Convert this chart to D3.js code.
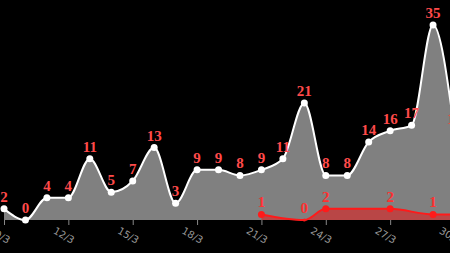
<!DOCTYPE html>
<html><head><meta charset="utf-8">
<script src="https://cdn.jsdelivr.net/npm/d3@7"></script>
<style>html,body{margin:0;padding:0;background:#000;overflow:hidden}</style>
</head><body>
<svg id="c" width="450" height="253"></svg>
<script>
// day-of-March values
const casesDays = [9,10,11,12,13,14,15,16,17,18,19,20,21,22,23,24,25,26,27,28,29,30];
const casesValues = [2,0,4,4,11,5,7,13,3,9,9,8,9,11,21,8,8,14,16,17,35,16];
const deathsDays = [21,23,24,27,29,30];
const deathsValues = [1,0,2,2,1,1];
const tickDays = [9,12,15,18,21,24,27,30];
const tickLabels = tickDays.map(d => d + "/3");

const svg = d3.select("#c");
const x = d3.scaleLinear().domain([9,30]).range([4,454.5]);
const y = d3.scaleLinear().domain([0,35]).range([220,25]);
const curve = d3.curveMonotoneX;

const cases = casesDays.map((d,i)=>({d, v:casesValues[i]}));
const deaths = deathsDays.map((d,i)=>({d, v:deathsValues[i]}));

const area = d3.area().x(p=>x(p.d)).y0(y(0)).y1(p=>y(p.v)).curve(curve);
const line = d3.line().x(p=>x(p.d)).y(p=>y(p.v)).curve(curve);

svg.append("path").datum(cases).attr("d", area).attr("fill", "#808080");
svg.append("path").datum(cases).attr("d", line).attr("fill","none").attr("stroke","#fff").attr("stroke-width",2);

svg.append("path").datum(deaths).attr("d", area).attr("fill", "rgba(255,0,0,0.45)");
svg.append("path").datum(deaths).attr("d", line).attr("fill","none").attr("stroke","#ff1a1a").attr("stroke-width",2);

// axis
const axis = d3.axisBottom(x).tickValues(tickDays).tickFormat((d,i)=>tickLabels[i]).tickSize(5).tickSizeOuter(0);
const g = svg.append("g").attr("transform", `translate(0,${y(0)})`).call(axis);
g.select(".domain").remove();
g.selectAll(".tick line").attr("stroke","#888");
g.selectAll(".tick text")
  .attr("fill","#999").attr("font-family","DejaVu Sans, sans-serif").attr("font-size",10)
  .attr("text-anchor","end").attr("dy",0).attr("y",0)
  .attr("transform","translate(3,24) rotate(30)");

// dots
svg.selectAll(".cd").data(cases).enter().append("circle")
  .attr("cx",p=>x(p.d)).attr("cy",p=>y(p.v)).attr("r",3.5).attr("fill","#fff");
svg.selectAll(".dd").data(deaths).enter().append("circle")
  .attr("cx",p=>x(p.d)).attr("cy",p=>y(p.v)).attr("r",p=>p.v===0?1.5:3.5).attr("fill","#ff1a1a");

// labels
const lab = (data, col) => svg.selectAll(null).data(data).enter().append("text")
  .attr("x",p=>x(p.d)).attr("y",p=>y(p.v)-7)
  .attr("text-anchor","middle").attr("font-family","Liberation Serif, serif")
  .attr("font-weight","bold").attr("font-size",15).attr("fill",col)
  .text(p=>p.v);
lab(cases, "#ff4a4a");
lab(deaths, "#ff3030");
</script>
</body></html>
